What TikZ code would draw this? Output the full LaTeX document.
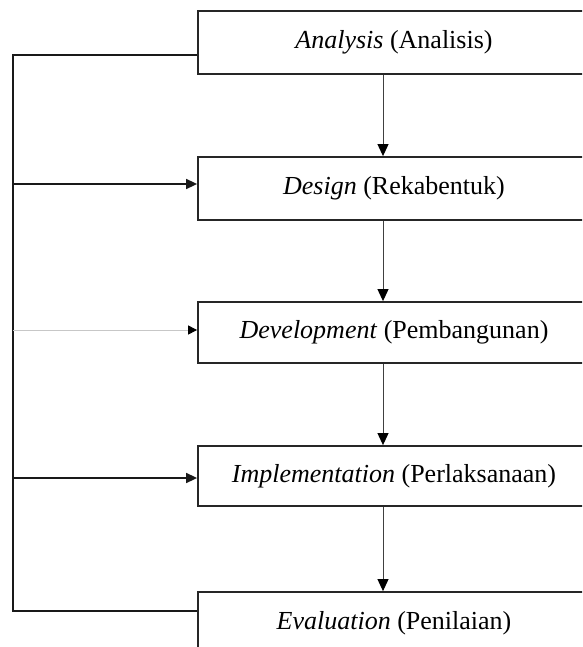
\documentclass[tikz,border=0pt]{standalone}
\usepackage{fontspec}
\setmainfont{Liberation Serif}
\usetikzlibrary{arrows.meta}
\begin{document}
\begin{tikzpicture}[x=1pt,y=-1pt,
  box/.style={draw=black!85,line width=1.8pt,rectangle,inner sep=0pt,minimum width=392pt,
    font=\fontsize{26}{30}\selectfont,fill=white},
  varrow/.style={draw=black!75,line width=1pt,-{Triangle[length=12pt,width=11pt,color=black]}},
  loopline/.style={draw=black!90,line width=1.6pt},
  harrow/.style={draw=black!90,line width=1.6pt,-{Triangle[length=11pt,width=10pt]}},
  farrow/.style={draw=black!22,line width=1pt,-{Triangle[length=9pt,width=9pt,color=black]}}]
\useasboundingbox (0,0) rectangle (582,647);
\clip (0,0) rectangle (582,647);
\fill[white] (0,0) rectangle (582,647);

\node[box,minimum height=63pt] (an) at (394,42.5) {\textit{Analysis} (Analisis)};
\node[box,minimum height=63pt] (de) at (394,188.5) {\textit{Design} (Rekabentuk)};
\node[box,minimum height=61pt] (dv) at (394,332.5) {\textit{Development} (Pembangunan)};
\node[box,minimum height=60pt] (im) at (394,476) {\textit{Implementation} (Perlaksanaan)};
\node[box,minimum height=62pt] (ev) at (394,623) {\textit{Evaluation} (Penilaian)};

\coordinate (ax) at (383,0);
\coordinate (ltop) at (13,55);
\coordinate (lbot) at (13,611);
\coordinate (anout) at ([yshift=-12.5pt]an.west);
\coordinate (evin) at ([yshift=12pt]ev.west);
\coordinate (dein) at ([yshift=4.5pt]de.west);
\coordinate (dvin) at ([yshift=2.5pt]dv.west);
\coordinate (imin) at ([yshift=-2pt]im.west);

\draw[varrow] (an.south -| ax) -- (de.north -| ax);
\draw[varrow] (de.south -| ax) -- (dv.north -| ax);
\draw[varrow] (dv.south -| ax) -- (im.north -| ax);
\draw[varrow] (im.south -| ax) -- (ev.north -| ax);

\draw[loopline] (anout) -- (ltop) -- (lbot) -- (evin);
\draw[harrow] (ltop |- dein) -- (dein);
\draw[farrow] (ltop |- dvin) -- (dvin);
\draw[harrow] (ltop |- imin) -- (imin);
\end{tikzpicture}
\end{document}
